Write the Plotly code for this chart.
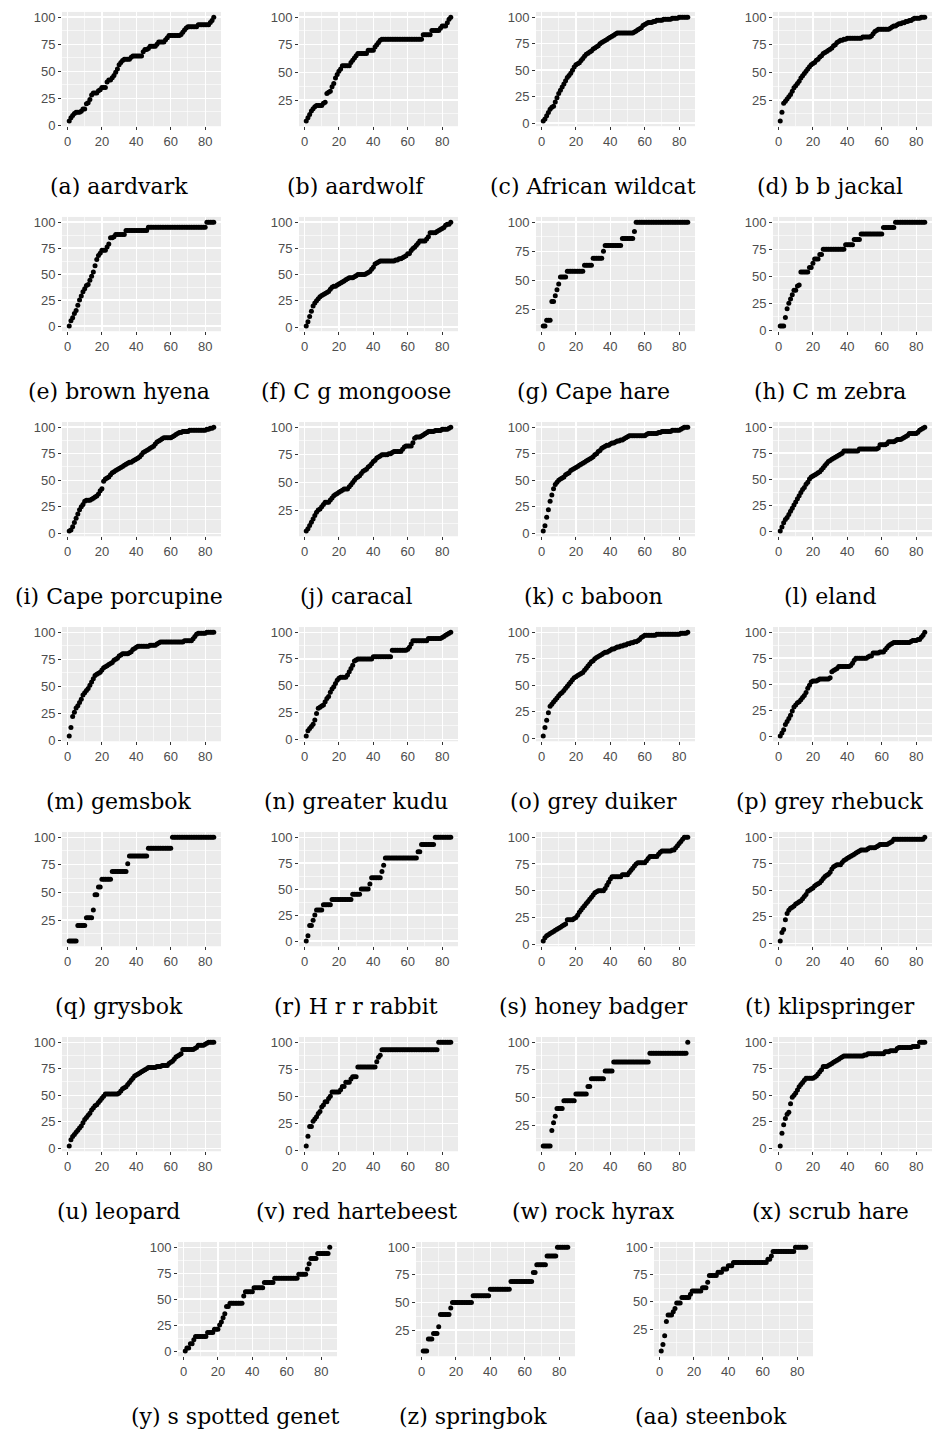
import plotly.graph_objects as go

days = list(range(1, 86))

aardvark = [
4,7,9,11,12,12,12,13,15,15,
20,21,24,28,30,30,30,32,33,35,
35,35,40,42,42,44,46,49,52,56,
58,60,61,61,61,61,63,64,64,64,
64,64,64,68,70,70,71,73,73,73,
73,75,77,77,77,77,79,81,83,83,
83,83,83,83,83,84,86,88,90,91,
91,91,91,91,91,93,93,93,93,93,
93,93,95,97,100]

aardwolf = [
6,9,12,15,17,19,20,20,20,20,
22,23,31,32,33,37,40,45,48,51,
53,56,56,56,56,56,59,61,63,65,
67,67,67,67,67,67,70,70,70,70,
73,75,77,79,80,80,80,80,80,80,
80,80,80,80,80,80,80,80,80,80,
80,80,80,80,80,80,80,80,84,84,
84,84,84,88,88,88,88,88,90,92,
92,92,95,98,100]

african_wildcat = [
2,4,7,10,13,15,16,20,24,28,
31,34,37,40,43,45,47,50,53,55,
56,57,59,61,63,65,66,67,68,70,
71,72,73,75,76,77,78,79,80,81,
82,83,84,85,85,85,85,85,85,85,
85,85,85,86,87,88,89,90,92,93,
94,95,95,95,96,96,97,97,97,97,
98,98,98,98,98,99,99,99,99,100,
100,100,100,100,100]

bb_jackal = [
6,14,22,24,26,28,30,33,36,38,
40,42,45,47,49,51,53,55,57,58,
59,61,62,64,65,67,68,69,70,71,
72,74,75,77,78,79,79,80,80,81,
81,81,81,81,81,81,81,81,82,82,
82,82,82,83,85,87,88,89,89,89,
89,89,89,89,90,91,92,92,93,94,
94,95,95,96,96,97,97,98,99,99,
99,99,100,100,100]

brown_hyena = [
0,5,8,12,15,20,25,29,33,36,
39,40,44,48,52,58,64,68,70,73,
73,73,76,79,85,85,86,88,88,88,
88,88,88,92,92,92,92,92,92,92,
92,92,92,92,92,92,95,95,95,95,
95,95,95,95,95,95,95,95,95,95,
95,95,95,95,95,95,95,95,95,95,
95,95,95,95,95,95,95,95,95,95,
100,100,100,100,100]

cg_mongoose = [
1,5,10,15,20,23,25,27,29,30,
31,32,33,34,36,38,39,39,40,41,
42,43,44,45,46,47,47,47,48,49,
50,50,50,50,50,51,52,53,55,57,
60,61,62,63,63,63,63,63,63,63,
63,63,64,64,65,65,66,67,68,70,
70,73,75,76,78,80,82,82,82,82,
84,86,90,90,90,90,91,92,93,94,
95,97,98,98,100]

cape_hare = [
11,11,16,16,16,32,32,37,42,47,
53,53,53,53,58,58,58,58,58,58,
58,58,58,58,63,63,63,63,63,69,
69,69,69,69,69,75,80,80,80,80,
80,80,80,80,80,80,86,86,86,86,
86,86,86,92,100,100,100,100,100,100,
100,100,100,100,100,100,100,100,100,100,
100,100,100,100,100,100,100,100,100,100,
100,100,100,100,100]

cm_zebra = [
4,4,4,12,20,25,29,33,37,37,
41,42,54,54,54,54,54,58,58,62,
66,66,66,70,70,75,75,75,75,75,
75,75,75,75,75,75,75,75,79,79,
79,79,79,84,84,84,84,89,89,89,
89,89,89,89,89,89,89,89,89,89,
95,95,95,95,95,95,95,100,100,100,
100,100,100,100,100,100,100,100,100,100,
100,100,100,100,100]

cape_porcupine = [
2,3,6,10,14,18,22,25,27,30,
31,31,31,32,33,34,35,37,40,42,
49,51,52,53,55,57,58,59,60,61,
62,63,64,65,66,67,67,68,69,70,
71,72,74,76,77,78,79,80,81,82,
84,86,87,88,89,90,90,90,90,90,
91,92,93,94,95,95,96,96,96,96,
97,97,97,97,97,97,97,97,97,97,
98,98,99,99,100]

caracal = [
6,8,11,14,17,20,23,25,26,28,
30,32,32,32,34,36,38,39,40,41,
42,43,44,44,44,46,48,50,52,54,
55,56,58,60,61,62,64,65,67,69,
70,72,73,74,75,75,75,75,76,76,
77,78,78,78,78,78,80,82,83,83,
83,83,86,90,91,91,91,92,93,94,
95,96,96,96,96,97,97,97,97,98,
98,98,98,99,100]

c_baboon = [
2,7,15,22,30,36,42,46,48,50,
51,52,53,55,56,57,59,60,61,62,
63,64,65,66,67,68,69,70,71,72,
74,75,77,78,80,81,82,83,83,84,
85,85,86,87,87,88,88,89,90,91,
92,92,92,92,92,92,92,92,92,92,
93,94,94,94,94,94,94,95,95,96,
96,96,96,96,96,97,97,97,97,97,
98,99,100,100,100]

eland = [
0,4,8,11,13,16,19,22,25,28,
31,34,37,40,42,45,47,50,52,53,
54,55,56,57,59,61,63,65,67,68,
69,70,71,72,73,74,75,77,77,77,
77,77,77,77,77,77,79,79,79,79,
79,79,79,79,79,79,79,80,83,83,
83,83,84,86,86,86,86,87,88,88,
88,89,90,91,92,94,94,94,94,94,
95,97,98,99,100]

gemsbok = [
4,12,22,26,30,32,35,38,42,44,
46,48,51,54,57,60,61,62,63,65,
67,68,69,70,71,72,74,75,76,78,
79,80,80,80,80,81,82,84,85,86,
87,87,87,87,87,87,87,88,88,88,
88,89,90,91,91,91,91,91,91,91,
91,91,91,91,91,91,91,92,92,92,
92,92,94,96,98,99,99,99,99,99,
100,100,100,100,100]

greater_kudu = [
3,8,10,12,14,18,24,29,30,31,
32,35,38,40,44,47,49,52,55,57,
58,58,58,58,60,63,66,69,73,74,
75,75,75,75,75,75,75,75,75,77,
77,77,77,77,77,77,77,77,77,77,
83,83,83,83,83,83,83,83,83,84,
86,89,92,92,92,92,92,92,92,92,
92,94,94,94,94,94,94,94,94,95,
96,97,98,99,100]

grey_duiker = [
2,10,17,24,30,32,34,36,38,40,
42,43,45,47,49,51,53,55,57,58,
59,60,61,62,64,66,68,70,72,73,
75,76,77,78,79,80,81,81,82,83,
84,84,85,86,86,87,87,88,88,89,
89,90,90,91,91,92,93,95,96,97,
97,97,97,97,97,97,98,98,98,98,
98,98,98,98,98,98,98,98,98,98,
99,99,99,99,100]

grey_rhebuck = [
0,3,6,11,14,17,20,24,28,30,
32,33,35,37,39,42,46,49,52,53,
53,53,54,55,55,55,55,55,55,56,
62,63,64,65,67,67,67,67,67,67,
67,68,70,73,75,75,75,75,75,75,
75,76,77,77,80,80,80,80,81,81,
81,83,85,87,88,89,90,90,90,90,
90,90,90,90,90,90,91,92,92,92,
93,93,95,97,100]

grysbok = [
6,6,6,6,6,20,20,20,20,20,
27,27,27,27,34,48,48,55,55,62,
62,62,62,62,62,69,69,69,69,69,
69,69,69,69,76,83,83,83,83,83,
83,83,83,83,83,83,90,90,90,90,
90,90,90,90,90,90,90,90,90,90,
100,100,100,100,100,100,100,100,100,100,
100,100,100,100,100,100,100,100,100,100,
100,100,100,100,100]

hrr_rabbit = [
0,5,15,15,20,25,30,30,30,30,
35,35,35,35,35,40,40,40,40,40,
40,40,40,40,40,40,40,45,45,45,
45,45,50,50,50,50,50,55,61,61,
61,61,61,61,67,73,80,80,80,80,
80,80,80,80,80,80,80,80,80,80,
80,80,80,80,80,86,86,93,93,93,
93,93,93,93,93,100,100,100,100,100,
100,100,100,100,100]

honey_badger = [
3,6,8,9,10,11,12,13,14,15,
16,17,18,19,23,23,23,23,24,25,
27,30,32,34,36,38,40,42,44,46,
48,49,50,50,50,50,52,55,58,61,
63,63,63,63,63,63,65,65,65,65,
67,69,71,73,75,76,76,76,76,76,
78,80,82,82,82,82,82,84,86,87,
87,87,87,87,87,88,88,90,92,94,
96,98,100,100,100]

klipspringer = [
2,10,13,22,28,31,33,34,35,37,
38,39,40,42,44,46,49,50,51,52,
54,55,56,57,59,61,63,64,65,67,
70,72,73,74,74,74,76,78,79,80,
81,82,83,84,85,86,87,88,88,88,
88,89,90,90,90,90,91,92,93,93,
93,93,93,94,95,96,98,98,98,98,
98,98,98,98,98,98,98,98,98,98,
98,98,98,98,100]

leopard = [
2,8,11,13,15,17,19,21,24,27,
29,31,33,36,38,40,41,43,45,47,
49,51,51,51,51,51,51,51,51,52,
54,56,57,58,60,62,64,66,68,69,
70,71,72,73,74,75,76,76,76,76,
76,77,77,77,78,78,78,78,80,81,
82,84,86,87,88,89,93,93,93,93,
93,93,93,94,95,97,97,97,97,98,
99,100,100,100,100]

red_hartebeest = [
4,13,22,22,27,29,31,34,36,40,
42,45,45,48,50,54,54,54,54,54,
56,59,59,63,63,63,66,68,68,68,
77,77,77,77,77,77,77,77,77,77,
77,82,86,88,93,93,93,93,93,93,
93,93,93,93,93,93,93,93,93,93,
93,93,93,93,93,93,93,93,93,93,
93,93,93,93,93,93,93,100,100,100,
100,100,100,100,100]

rock_hyrax = [
6,6,6,6,6,20,27,33,40,40,
40,40,47,47,47,47,47,47,47,53,
53,53,53,53,53,53,60,60,67,67,
67,67,67,67,67,67,74,74,74,74,
74,82,82,82,82,82,82,82,82,82,
82,82,82,82,82,82,82,82,82,82,
82,82,90,90,90,90,90,90,90,90,
90,90,90,90,90,90,90,90,90,90,
90,90,90,90,100]

scrub_hare = [
2,14,22,28,32,34,42,48,50,52,
55,58,60,62,64,66,66,66,66,66,
67,68,70,72,74,77,77,77,78,79,
80,81,82,83,84,85,86,87,87,87,
87,87,87,87,87,87,87,87,87,88,
88,89,89,89,89,89,89,89,89,89,
89,91,91,91,92,92,92,92,94,95,
95,95,95,95,95,95,95,96,96,96,
96,100,100,100,100]

ss_genet = [
0,3,3,7,7,11,14,14,14,14,
14,14,14,18,18,18,18,21,21,21,
25,28,32,36,43,43,46,46,46,46,
46,46,46,46,53,57,57,57,57,57,
61,61,61,61,61,61,66,66,66,66,
66,66,70,70,70,70,70,70,70,70,
70,70,70,70,70,70,74,74,74,74,
74,79,84,89,89,89,89,94,94,94,
94,94,94,94,100]

springbok = [
6,6,6,17,17,17,22,22,22,28,
39,39,39,39,39,39,45,50,50,50,
50,50,50,50,50,50,50,50,50,56,
56,56,56,56,56,56,56,56,56,62,
62,62,62,62,62,62,62,62,62,62,
62,69,69,69,69,69,69,69,69,69,
69,69,69,69,77,77,84,84,84,84,
84,84,92,92,92,92,92,92,100,100,
100,100,100,100,100]

steenbok = [
5,11,19,32,38,38,38,41,44,49,
49,49,54,54,54,54,54,57,60,60,
60,60,60,60,63,63,63,68,74,74,
74,74,74,77,77,77,80,80,80,83,
83,83,86,86,86,86,86,86,86,86,
86,86,86,86,86,86,86,86,86,86,
86,86,89,89,92,96,96,96,96,96,
96,96,96,96,96,96,96,96,100,100,
100,100,100,100,100]

captions = [
    "(a) aardvark", "(b) aardwolf", "(c) African wildcat", "(d) b b jackal",
    "(e) brown hyena", "(f) C g mongoose", "(g) Cape hare", "(h) C m zebra",
    "(i) Cape porcupine", "(j) caracal", "(k) c baboon", "(l) eland",
    "(m) gemsbok", "(n) greater kudu", "(o) grey duiker", "(p) grey rhebuck",
    "(q) grysbok", "(r) H r r rabbit", "(s) honey badger", "(t) klipspringer",
    "(u) leopard", "(v) red hartebeest", "(w) rock hyrax", "(x) scrub hare",
    "(y) s spotted genet", "(z) springbok", "(aa) steenbok",
]
series = [
    aardvark, aardwolf, african_wildcat, bb_jackal,
    brown_hyena, cg_mongoose, cape_hare, cm_zebra,
    cape_porcupine, caracal, c_baboon, eland,
    gemsbok, greater_kudu, grey_duiker, grey_rhebuck,
    grysbok, hrr_rabbit, honey_badger, klipspringer,
    leopard, red_hartebeest, rock_hyrax, scrub_hare,
    ss_genet, springbok, steenbok,
]
x_ticks = [0, 20, 40, 60, 80]
y_ticks = [0, 25, 50, 75, 100]

W, H = 934, 1438
col_left = [62, 299, 536, 773]
last_left = [178, 416, 654]
PW, PH = 159, 115
ROW_STEP = 206.3
TOP0 = 10

tick_font = dict(family="Liberation Sans, Arial, sans-serif", size=13, color="#4D4D4D")
fig = go.Figure()
annotations = []
for i, (cap, ys) in enumerate(zip(captions, series)):
    r, c = divmod(i, 4)
    left = col_left[c] if r < 6 else last_left[c]
    top = TOP0 + ROW_STEP * r
    n = i + 1
    xk = "xaxis" if n == 1 else f"xaxis{n}"
    yk = "yaxis" if n == 1 else f"yaxis{n}"
    xr = "x" if n == 1 else f"x{n}"
    yr = "y" if n == 1 else f"y{n}"
    xs = days[:len(ys)]
    fig.add_trace(go.Scatter(
        x=xs, y=ys, mode="markers", xaxis=xr, yaxis=yr,
        marker=dict(color="black", size=5, line=dict(width=0)),
        showlegend=False, hoverinfo="skip"))
    xlo, xhi = min(xs), max(xs)
    xpad = 0.05 * (xhi - xlo)
    ylo, yhi = min(ys), max(ys)
    ypad = 0.05 * (yhi - ylo)
    common = dict(
        showgrid=True, gridcolor="white", gridwidth=1.3,
        zeroline=False, showline=False,
        ticks="outside", ticklen=3, tickwidth=1, tickcolor="#333333",
        tickfont=tick_font, fixedrange=True,
    )
    fig.update_layout(**{
        xk: dict(domain=[left / W, (left + PW) / W], anchor=yr,
                 range=[xlo - xpad, xhi + xpad], tickvals=x_ticks,
                 minor=dict(dtick=10, tick0=0, showgrid=True,
                            gridcolor="white", gridwidth=0.6),
                 **common),
        yk: dict(domain=[1 - (top + PH) / H, 1 - top / H], anchor=xr,
                 range=[ylo - ypad, yhi + ypad], tickvals=y_ticks,
                 minor=dict(dtick=12.5, tick0=0, showgrid=True,
                            gridcolor="white", gridwidth=0.6),
                 **common),
    })
    cx = left + PW / 2 - 22.5
    cy = top + 176
    annotations.append(dict(
        text=cap, x=cx / W, y=1 - cy / H, xref="paper", yref="paper",
        xanchor="center", yanchor="middle", showarrow=False,
        font=dict(family="DejaVu Serif, serif", size=22, color="black")))

fig.update_layout(
    width=W, height=H, margin=dict(l=0, r=0, t=0, b=0),
    paper_bgcolor="white", plot_bgcolor="#EBEBEB",
    annotations=annotations, showlegend=False,
)
fig.write_html(
    "out.html",
    config={"displayModeBar": False, "staticPlot": True},
    post_script="document.body.style.margin='0';document.body.style.overflow='hidden';",
)
